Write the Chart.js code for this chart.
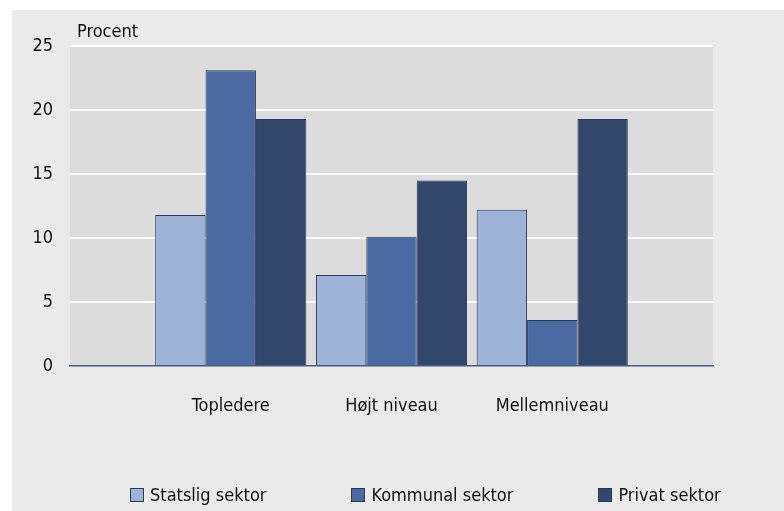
<!DOCTYPE html>
<html>
<head>
<meta charset="utf-8">
<script src="https://cdn.jsdelivr.net/npm/chart.js@4"></script>
<style>
  body { margin: 0; background: #ffffff; }
  #frame { position: absolute; left: 12px; top: 10px; width: 772px; height: 501px; background: #eaeaea; }
  #wrap { position: absolute; left: 0; top: 0; width: 784px; height: 511px; }
  #legend { position: absolute; left: 130px; top: 484px; display: flex; gap: 85px;
    font-family: 'Liberation Sans Narrow', 'DejaVu Sans Condensed', sans-serif; font-size: 18px; line-height: 22px; color: #111; }
  #legend .item { display: flex; align-items: center; }
  #legend .box { width: 14px; height: 14px; border: 1px solid #2a3a58; margin-right: 6px; box-sizing: border-box; }
</style>
</head>
<body>
<div id="frame"></div>
<div id="wrap"><canvas id="chart" width="784" height="511"></canvas></div>
<div id="legend"></div>
<script>
const categories = ['', 'Topledere', 'Højt niveau', 'Mellemniveau', ''];
const seriesNames = ['Statslig sektor', 'Kommunal sektor', 'Privat sektor'];
const statslig = [null, 11.8, 7.1, 12.2, null];
const kommunal = [null, 23.1, 10.1, 3.6, null];
const privat = [null, 19.3, 14.5, 19.3, null];
const yTicks = [0, 5, 10, 15, 20, 25];
const colors = ['#9fb2d7', '#4b6aa1', '#33466b'];

const fontFamily = "'Liberation Sans Narrow', 'DejaVu Sans Condensed', sans-serif";

const legendDiv = document.getElementById('legend');
seriesNames.forEach((name, i) => {
  const item = document.createElement('div');
  item.className = 'item';
  item.innerHTML = `<span class="box" style="background:${colors[i]}"></span><span>${name}</span>`;
  legendDiv.appendChild(item);
});

const plotBg = {
  id: 'plotBg',
  beforeDraw(chart) {
    const { ctx, chartArea: a } = chart;
    ctx.save();
    ctx.fillStyle = '#dcdcdc';
    ctx.fillRect(a.left, a.top, a.right - a.left, a.bottom - a.top);
    ctx.restore();
  },
  afterDraw(chart) {
    const { ctx, chartArea: a } = chart;
    ctx.save();
    ctx.fillStyle = '#111';
    ctx.font = `18px ${fontFamily}`;
    ctx.textBaseline = 'alphabetic';
    ctx.fillText('Procent', a.left + 7, a.top - 9);
    ctx.restore();
  }
};

const data = [statslig, kommunal, privat];

new Chart(document.getElementById('chart'), {
  type: 'bar',
  data: {
    labels: categories,
    datasets: seriesNames.map((name, i) => ({
      label: name,
      data: data[i],
      backgroundColor: colors[i],
      borderColor: '#2a3a58',
      borderWidth: 1,
      categoryPercentage: 0.94,
      barPercentage: 1
    }))
  },
  options: {
    responsive: false,
    animation: false,
    layout: { padding: { left: 0, right: 71, top: 46, bottom: 95 } },
    plugins: {
      legend: { display: false },
      tooltip: { enabled: false }
    },
    scales: {
      x: {
        offset: false,
        grid: { display: false },
        border: { display: true, color: '#4a5c7c', width: 1.5 },
        ticks: { color: '#111', font: { family: fontFamily, size: 18 }, padding: 22, maxRotation: 0, autoSkip: false },
        afterFit(scale) { scale.height = 50; }
      },
      y: {
        min: 0,
        max: 25,
        afterBuildTicks(scale) { scale.ticks = yTicks.map(v => ({ value: v })); },
        grid: {
          color: c => (c.tick && c.tick.value === 0) ? 'rgba(0,0,0,0)' : '#ffffff',
          lineWidth: 2,
          drawTicks: false
        },
        border: { display: false },
        ticks: { color: '#111', font: { family: fontFamily, size: 18 }, padding: 17 },
        afterFit(scale) { scale.width = 70; }
      }
    }
  },
  plugins: [plotBg]
});
</script>
</body>
</html>
